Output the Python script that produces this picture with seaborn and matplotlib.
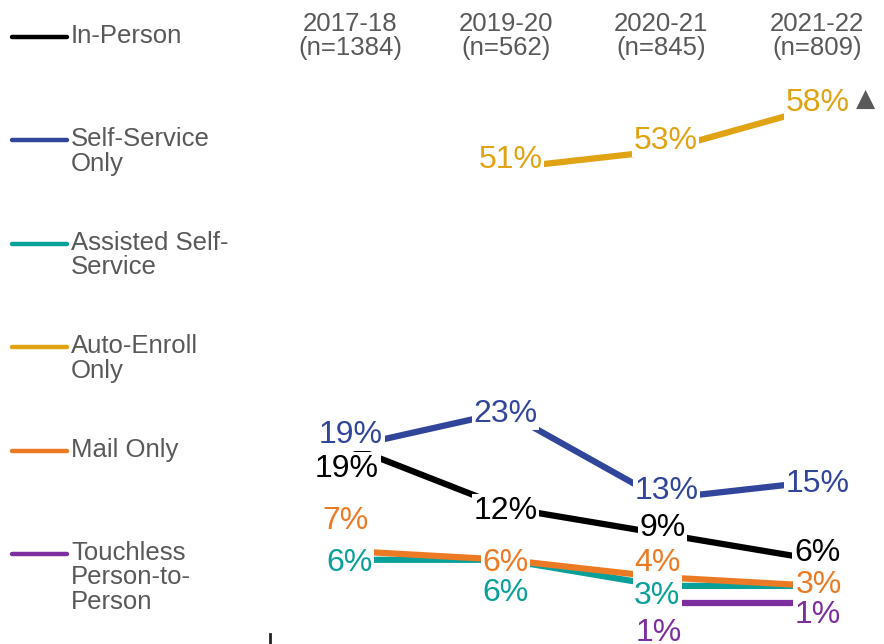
import numpy as np
import pandas as pd
import matplotlib
matplotlib.use("Agg")
import matplotlib.pyplot as plt
import matplotlib.transforms as mtransforms
from matplotlib.lines import Line2D
import seaborn as sns

# Data
years = ["2017-18", "2019-20", "2020-21", "2021-22"]
sample_sizes = ["(n=1384)", "(n=562)", "(n=845)", "(n=809)"]
series = ["In-Person", "Self-Service Only", "Assisted Self-Service",
          "Auto-Enroll Only", "Mail Only", "Touchless Person-to-Person"]
legend_labels = ["In-Person", "Self-Service\nOnly", "Assisted Self-\nService",
                 "Auto-Enroll\nOnly", "Mail Only", "Touchless\nPerson-to-\nPerson"]

in_person = [19, 12, 9, 6]
self_service = [19, 23, 13, 15]
assisted = [6, 6, 3, 3]
auto_enroll = [np.nan, 51, 53, 58]
mail_only = [7, 6, 4, 3]
touchless = [np.nan, np.nan, 1, 1]

colors = ["#000000", "#31459b", "#0aa09a", "#dfa313", "#ec7a24", "#7d2f9f"]
gray = "#595959"

# label nudges in pixels (right, up) so labels sit like the original
label_offsets = [
    [(-3, -19), (0, 0), (1, 9), (0, 10)],
    [(1, 15), (0, 1), (5, 11), (1, 0)],
    [(-1, 0), (0, -30), (-4, -7), (1, 3)],
    [None, (5, 11), (4, 13), (1, 7)],
    [(-5, 33), (0, 0), (-4, 17), (2, 4)],
    [None, None, (-3, -27), (1, -9)],
]

values = [in_person, self_service, assisted, auto_enroll, mail_only, touchless]
rows = []
for name, vals in zip(series, values):
    for i, v in enumerate(vals):
        rows.append({"series": name, "pos": i, "value": v})
df = pd.DataFrame(rows).dropna()

sns.set_theme(style="white")
plt.rcParams["font.family"] = ["Liberation Sans", "DejaVu Sans"]

W, H = 884, 644
fig = plt.figure(figsize=(W / 100, H / 100), dpi=100)
ax = fig.add_axes([270 / W, 0, (W - 270) / W, 1])

sns.lineplot(data=df, x="pos", y="value", hue="series", hue_order=series,
             palette=colors, linewidth=4.5, legend=False, ax=ax, sort=False)
for ln in ax.get_lines():
    ln.set_solid_capstyle("butt")
    ln.set_zorder(2)

px_per_unit = 155.67
px_per_pct = 8.7
ax.set_xlim((270 - 350) / px_per_unit, (W - 350) / px_per_unit)
ax.set_ylim(-32 / px_per_pct, (H - 32) / px_per_pct)
ax.set_xticks([])
ax.set_yticks([])
ax.set_xlabel("")
ax.set_ylabel("")
for s in ["top", "right", "bottom"]:
    ax.spines[s].set_visible(False)
ax.spines["left"].set_color("#222222")
ax.spines["left"].set_linewidth(2)
ax.spines["left"].set_bounds(-32 / px_per_pct, -22 / px_per_pct)

# value labels
z = 5
for name, vals, offs, col in zip(series, values, label_offsets, colors):
    for i, v in enumerate(vals):
        if np.isnan(v):
            continue
        dx, dy = offs[i]
        ax.annotate(f"{int(v)}%", (i, v), xytext=(dx, dy - 3), textcoords="offset pixels",
                    ha="center", va="center", fontsize=23, color=col, zorder=z,
                    bbox=dict(boxstyle="square,pad=0.05", fc="white", ec="none"))
        z += 0.01

ax.annotate("\u25B2", (3, auto_enroll[3]), xytext=(49, 8), textcoords="offset pixels",
            ha="center", va="center", fontsize=18, color=gray,
            family="DejaVu Sans", zorder=6)

# column headers
trans = mtransforms.blended_transform_factory(ax.transData, ax.transAxes)
for i, (yr, n) in enumerate(zip(years, sample_sizes)):
    ax.text(i, 1 - 24 / H, yr, transform=trans, ha="center", va="center",
            fontsize=18.5, color=gray)
    ax.text(i, 1 - 48 / H, n, transform=trans, ha="center", va="center",
            fontsize=18.5, color=gray)

# legend on the left
for k, (lab, col) in enumerate(zip(legend_labels, colors)):
    y0 = 36 + k * 103.4
    fig.add_artist(Line2D([12 / W, 67 / W], [1 - (y0 + 1) / H, 1 - (y0 + 1) / H],
                          color=col, lw=3.2, solid_capstyle="round"))
    for j, part in enumerate(lab.split("\n")):
        fig.text(71 / W, 1 - (y0 + j * 24.5) / H, part, ha="left", va="center",
                 fontsize=18.5, color=gray)

fig.savefig("out.png", dpi=100)
